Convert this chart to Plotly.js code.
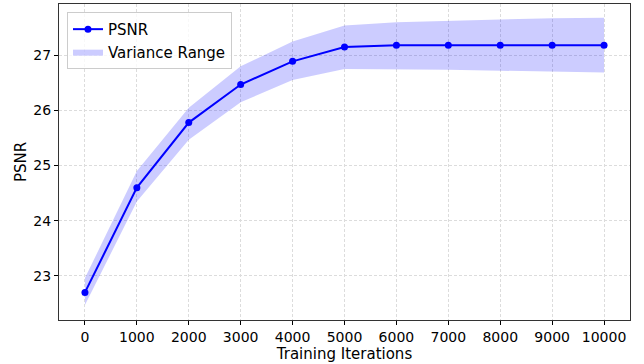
<!DOCTYPE html>
<html>
<head>
<meta charset="utf-8">
<script src="https://cdn.plot.ly/plotly-3.0.1.min.js"></script>
<style>html,body{margin:0;padding:0;background:#fff;}#chart{width:644px;height:364px;}</style>
</head>
<body>
<div id="chart"></div>
<script>
const iterations = [0, 1000, 2000, 3000, 4000, 5000, 6000, 7000, 8000, 9000, 10000];
const psnr = [22.70, 24.60, 25.78, 26.47, 26.89, 27.15, 27.18, 27.18, 27.18, 27.18, 27.18];
const upper = [22.96, 24.90, 26.05, 26.80, 27.25, 27.54, 27.60, 27.63, 27.65, 27.67, 27.68];
const lower = [22.47, 24.35, 25.47, 26.15, 26.55, 26.75, 26.75, 26.74, 26.72, 26.70, 26.69];
const xTicks = [0, 1000, 2000, 3000, 4000, 5000, 6000, 7000, 8000, 9000, 10000];
const xTickText = ['0', '1000', '2000', '3000', '4000', '5000', '6000', '7000', '8000', '9000', '10000'];
const yTicks = [23, 24, 25, 26, 27];

const band = {
  x: iterations.concat(iterations.slice().reverse()),
  y: upper.concat(lower.slice().reverse()),
  type: 'scatter', mode: 'lines', fill: 'toself',
  fillcolor: 'rgba(0,0,255,0.2)', line: {width: 0, color: 'rgba(0,0,255,0)'},
  name: 'Variance Range', hoverinfo: 'skip', legendrank: 2
};
const line = {
  x: iterations, y: psnr, type: 'scatter', mode: 'lines+markers',
  line: {color: '#0000ff', width: 2}, marker: {color: '#0000ff', size: 7},
  name: 'PSNR', legendrank: 1
};
const font = {family: 'DejaVu Sans', size: 14, color: '#000'};
const layout = {
  width: 644, height: 364,
  margin: {l: 59, r: 14, t: 4, b: 44},
  paper_bgcolor: '#fff', plot_bgcolor: '#fff',
  font: font,
  showlegend: true,
  legend: {x: 0.014, y: 0.975, xanchor: 'left', yanchor: 'top',
    bgcolor: 'rgba(255,255,255,0.8)', bordercolor: '#cccccc', borderwidth: 1,
    font: {family: 'DejaVu Sans', size: 15, color: '#000'}, tracegroupgap: 2},
  xaxis: {
    range: [-500, 10500], tickvals: xTicks, ticktext: xTickText, ticks: 'outside', ticklen: 4, tickcolor: '#000',
    showline: true, mirror: true, linecolor: '#333', linewidth: 1,
    showgrid: true, gridcolor: '#dcdcdc', griddash: '3px,2px', gridwidth: 1, zeroline: false,
    title: {text: 'Training Iterations', font: {family: 'DejaVu Sans', size: 15}, standoff: 4},
    tickfont: font
  },
  yaxis: {
    range: [22.2, 27.93], tickvals: yTicks, ticks: 'outside', ticklen: 4, tickcolor: '#000',
    showline: true, mirror: true, linecolor: '#333', linewidth: 1,
    showgrid: true, gridcolor: '#dcdcdc', griddash: '3px,2px', gridwidth: 1, zeroline: false,
    title: {text: 'PSNR', font: {family: 'DejaVu Sans', size: 15}, standoff: 3},
    tickfont: font
  }
};
Plotly.newPlot('chart', [band, line], layout, {displayModeBar: false, staticPlot: true});
</script>
</body>
</html>
